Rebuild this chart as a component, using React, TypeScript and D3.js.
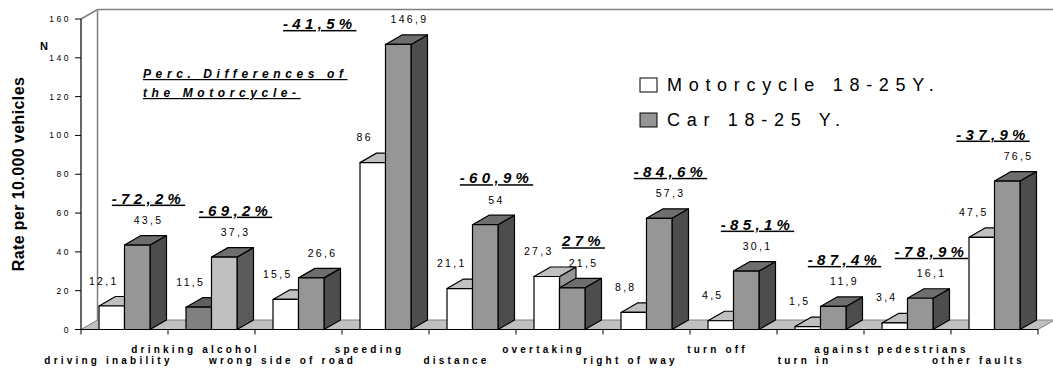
import React from "react";
import * as d3 from "d3";

const categories = [
  "driving inability",
  "drinking alcohol",
  "wrong side of road",
  "speeding",
  "distance",
  "overtaking",
  "right of way",
  "turn off",
  "turn in",
  "against pedestrians",
  "other faults",
];
const motorcycle = [12.1, 11.5, 15.5, 86, 21.1, 27.3, 8.8, 4.5, 1.5, 3.4, 47.5];
const car = [43.5, 37.3, 26.6, 146.9, 54, 21.5, 57.3, 30.1, 11.9, 16.1, 76.5];
const percDiff = ["-72,2%", "-69,2%", "-41,5%", "-60,9%", "27%", "-84,6%", "-85,1%", "-87,4%", "-78,9%", "-37,9%"];
const percCategory = [0, 1, 3, 4, 5, 6, 7, 8, 9, 10];
const yTicks = [0, 20, 40, 60, 80, 100, 120, 140, 160];
const seriesNames = ["Motorcycle 18-25Y.", "Car 18-25 Y."];
const annotation = ["Perc. Differences of", "the Motorcycle-"];

const W = 1053;
const H = 370;
const FONT = "'Liberation Sans', Arial, sans-serif";
const DX = 16.5;
const DY = -9.5;

const motoStyle = { front: "#ffffff", top: "#c0c0c0", side: "#969696" };
const carStyle = { front: "#969696", top: "#6e6e6e", side: "#4d4d4d" };
const overrideStyles: Record<number, { moto: typeof motoStyle; car: typeof carStyle }> = {
  1: {
    moto: { front: "#808080", top: "#5f5f5f", side: "#4d4d4d" },
    car: { front: "#c0c0c0", top: "#6e6e6e", side: "#5a5a5a" },
  },
};

function Bar3D({ x, w, y0, yt, style }: { x: number; w: number; y0: number; yt: number; style: typeof motoStyle }) {
  const top = `${x},${yt} ${x + DX},${yt + DY} ${x + w + DX},${yt + DY} ${x + w},${yt}`;
  const side = `${x + w},${yt} ${x + w + DX},${yt + DY} ${x + w + DX},${y0 + DY} ${x + w},${y0}`;
  return (
    <g stroke="#000" strokeWidth={1.2} strokeLinejoin="round">
      <polygon points={side} fill={style.side} />
      <polygon points={top} fill={style.top} />
      <rect x={x} y={yt} width={w} height={y0 - yt} fill={style.front} />
    </g>
  );
}

export default function App() {
  const x = d3.scaleBand<string>().domain(categories).range([81, 1038]).paddingInner(0).paddingOuter(0);
  const y = d3.scaleLinear().domain([0, 160]).range([329.5, 19]);
  const bw = x.bandwidth();
  const gap = bw * 0.207;
  const barW = (bw - 2 * gap) / 2;
  const y0 = y(0);
  const xL = x.range()[0];
  const xR = x.range()[1];
  const yTop = y(160);

  return (
    <svg width={W} height={H} style={{ position: "absolute", left: 0, top: 0, display: "block" }} fontFamily={FONT}>
      <rect width={W} height={H} fill="#fff" />
      {/* floor and back walls */}
      <polygon
        points={`${xL},${y0} ${xL + DX},${y0 + DY} ${xR + DX},${y0 + DY} ${xR},${y0}`}
        fill="#c0c0c0"
        stroke="#808080"
        strokeWidth={1}
      />
      <g stroke="#808080" strokeWidth={1.5} fill="none">
        <line x1={xL} y1={yTop} x2={xL + DX} y2={yTop + DY} />
        <line x1={xL + DX} y1={yTop + DY} x2={W} y2={yTop + DY} />
        <line x1={xL + DX} y1={yTop + DY} x2={xL + DX} y2={y0 + DY} />
      </g>

      {/* y axis */}
      <line x1={xL} y1={yTop} x2={xL} y2={y0} stroke="#000" strokeWidth={1.2} />
      {yTicks.map((t) => (
        <g key={t}>
          <line x1={xL - 6} x2={xL} y1={y(t)} y2={y(t)} stroke="#000" strokeWidth={1} />
          <text x={71} y={y(t) + 3} fontSize={8.5} letterSpacing={2.5} textAnchor="end">
            {t}
          </text>
        </g>
      ))}
      <text x={40} y={50} fontSize={11} fontWeight="bold">N</text>
      <text
        transform={`translate(24,174) rotate(-90)`}
        fontSize={16}
        fontWeight="bold"
        textAnchor="middle"
        letterSpacing={0.4}
      >
        Rate per 10.000 vehicles
      </text>

      {/* x axis */}
      <line x1={xL} x2={xR} y1={y0} y2={y0} stroke="#000" strokeWidth={1.2} />
      {[...categories.map((c) => x(c)!), xR].map((tx, i) => (
        <line key={i} x1={tx} x2={tx} y1={y0} y2={y0 + 5} stroke="#000" strokeWidth={1} />
      ))}
      {categories.map((c, i) => (
        <text
          key={c}
          x={x(c)! + bw / 2 - 16}
          y={i % 2 === 0 ? 364 : 353}
          fontSize={10}
          fontWeight="bold"
          letterSpacing={3.2}
          textAnchor="middle"
        >
          {c}
        </text>
      ))}

      {/* bars */}
      {categories.map((c, i) => {
        const bx = x(c)! + gap;
        const st = overrideStyles[i] || { moto: motoStyle, car: carStyle };
        return (
          <g key={c}>
            <Bar3D x={bx} w={barW} y0={y0} yt={y(motorcycle[i])} style={st.moto} />
            <Bar3D x={bx + barW} w={barW} y0={y0} yt={y(car[i])} style={st.car} />
          </g>
        );
      })}

      {/* value labels */}
      {categories.map((c, i) => {
        const bx = x(c)! + gap;
        const mX = bx + barW / 2 - 8;
        const mY = y(motorcycle[i]) - 25;
        const cX = bx + barW * 1.5 + DX / 2 + 3;
        const cY = y(car[i]) + DY - 15;
        const pi = percCategory.indexOf(i);
        const pct = pi >= 0 ? percDiff[pi] : null;
        let pX = cX;
        let pY = cY - 22;
        if (pY < 30) {
          pX = bx + barW / 2 - 53;
          pY = cY + 4;
        }
        pX = Math.min(pX, W - 60);
        return (
          <g key={c}>
            <text x={mX} y={mY + 3.5} fontSize={10.5} letterSpacing={2.3} textAnchor="middle">
              {String(motorcycle[i]).replace(".", ",")}
            </text>
            <text x={cX} y={cY + 3.5} fontSize={10.5} letterSpacing={2.3} textAnchor="middle">
              {String(car[i]).replace(".", ",")}
            </text>
            {pct && (
              <text
                x={pX}
                y={pY + 5}
                fontSize={15}
                fontWeight="bold"
                fontStyle="italic"
                letterSpacing={4.3}
                textAnchor="middle"
                textDecoration="underline"
              >
                {pct}
              </text>
            )}
          </g>
        );
      })}

      {/* annotation */}
      {annotation.map((line, i) => (
        <text
          key={line}
          x={143}
          y={78 + i * 19}
          fontSize={12}
          fontWeight="bold"
          fontStyle="italic"
          letterSpacing={4.6}
          textDecoration="underline"
        >
          {line}
        </text>
      ))}

      {/* legend */}
      <rect x={640} y={78} width={17} height={14} fill="#fff" stroke="#000" strokeWidth={1} />
      <text x={667} y={91} fontSize={18} letterSpacing={6.7}>{seriesNames[0]}</text>
      <rect x={640} y={113} width={17} height={14} fill="#969696" stroke="#000" strokeWidth={1} />
      <text x={667} y={126} fontSize={18} letterSpacing={6.7}>{seriesNames[1]}</text>
    </svg>
  );
}
